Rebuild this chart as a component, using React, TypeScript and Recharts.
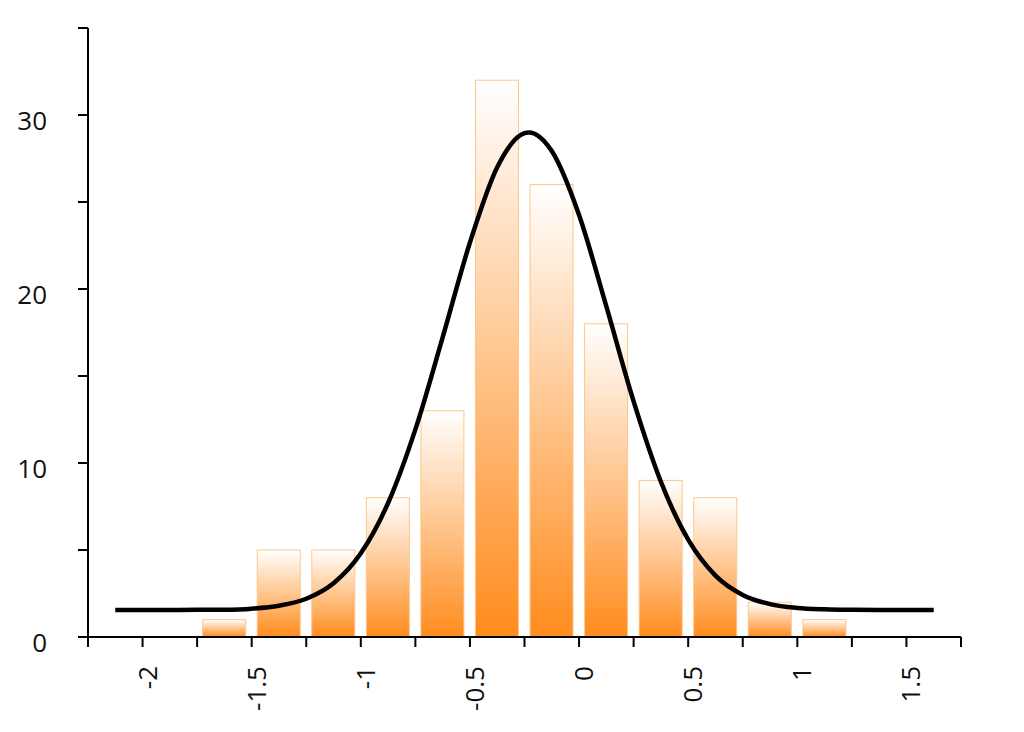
import React from "react";
import { ComposedChart, Bar, Line, XAxis, YAxis } from "recharts";

// histogram bins (centres) and counts
const binCenters = [-1.625, -1.375, -1.125, -0.875, -0.625, -0.375, -0.125, 0.125, 0.375, 0.625, 0.875, 1.125];
const counts = [1, 5, 5, 8, 13, 32, 26, 18, 9, 8, 2, 1];

// fitted curve
const curveX = [
  -2.125, -2, -1.875, -1.75, -1.625, -1.5, -1.375, -1.25, -1.125, -1, -0.875,
  -0.75, -0.625, -0.5, -0.375, -0.25, -0.23, -0.125, 0, 0.125, 0.25, 0.375, 0.5,
  0.625, 0.75, 0.875, 1, 1.125, 1.25, 1.375, 1.5, 1.625,
];
const curveY = [
  1.55, 1.55, 1.55, 1.56, 1.57, 1.63, 1.8, 2.2, 3.09, 4.81, 7.7,
  11.93, 17.22, 22.67, 27.0, 28.96, 29.0, 27.93, 24.25, 19.0, 13.54, 8.92, 5.59,
  3.53, 2.42, 1.89, 1.67, 1.59, 1.56, 1.55, 1.55, 1.55,
];

const xTicks = [-2.25, -2, -1.75, -1.5, -1.25, -1, -0.75, -0.5, -0.25, 0, 0.25, 0.5, 0.75, 1, 1.25, 1.5, 1.75];
const xLabels = [-2, -1.5, -1, -0.5, 0, 0.5, 1, 1.5];
const yTicks = [0, 5, 10, 15, 20, 25, 30, 35];
const yLabels = [0, 10, 20, 30];

const bins = binCenters.map((x, i) => ({ x, count: counts[i] }));
const curve = curveX.map((x, i) => ({ x, fit: curveY[i] }));

const FONT = "'Open Sans', 'Noto Sans', sans-serif";
const BAR_W = 43; // 80% of a bin

const XTick = (props: any) => {
  const { x, y, payload } = props;
  if (!xLabels.includes(payload.value)) return <g />;
  return (
    <text
      x={x}
      y={y}
      transform={`rotate(-90 ${x} ${y})`}
      textAnchor="end"
      dy={14}
      fontSize={26}
      fontFamily={FONT}
      fill="#111"
    >
      {String(payload.value)}
    </text>
  );
};

const YTick = (props: any) => {
  const { x, y, payload } = props;
  if (!yLabels.includes(payload.value)) return <g />;
  return (
    <text x={x} y={y} textAnchor="end" dy={15} fontSize={26} fontFamily={FONT} fill="#111">
      {String(payload.value)}
    </text>
  );
};

// recharts squeezes the bars on a number axis, so widen them around their centre
const HistBar = (props: any) => {
  const { x, y, width, height } = props;
  if (height == null || height <= 0) return <g />;
  const cx = x + width / 2;
  return (
    <rect
      x={cx - BAR_W / 2}
      y={y}
      width={BAR_W}
      height={height}
      fill="url(#barFill)"
      stroke="#ffc58a"
      strokeWidth={1}
    />
  );
};

export default function App() {
  return (
    <div style={{ fontFamily: FONT }}>
      <ComposedChart
        width={1008}
        height={716}
        data={bins}
        margin={{ top: 20, right: 55, bottom: 20, left: 20 }}
      >
        <defs>
          <linearGradient id="barFill" x1="0" y1="0" x2="0" y2="1">
            <stop offset="0%" stopColor="#ffffff" />
            <stop offset="100%" stopColor="#ff8c1e" />
          </linearGradient>
        </defs>
        <XAxis
          dataKey="x"
          type="number"
          domain={[-2.25, 1.75]}
          ticks={xTicks}
          interval={0}
          height={67}
          tickSize={10}
          tickMargin={19}
          axisLine={{ stroke: "#000", strokeWidth: 2 }}
          tickLine={{ stroke: "#000", strokeWidth: 2 }}
          tick={<XTick />}
        />
        <YAxis
          type="number"
          domain={[0, 35]}
          ticks={yTicks}
          interval={0}
          width={60}
          tickSize={10}
          tickMargin={31}
          axisLine={{ stroke: "#000", strokeWidth: 2 }}
          tickLine={{ stroke: "#000", strokeWidth: 2 }}
          tick={<YTick />}
        />
        <Bar
          dataKey="count"
          fill="url(#barFill)"
          shape={<HistBar />}
          isAnimationActive={false}
        />
        <Line
          data={curve}
          dataKey="fit"
          type="monotone"
          stroke="#000"
          strokeWidth={4.5}
          dot={false}
          activeDot={false}
          isAnimationActive={false}
        />
      </ComposedChart>
    </div>
  );
}
